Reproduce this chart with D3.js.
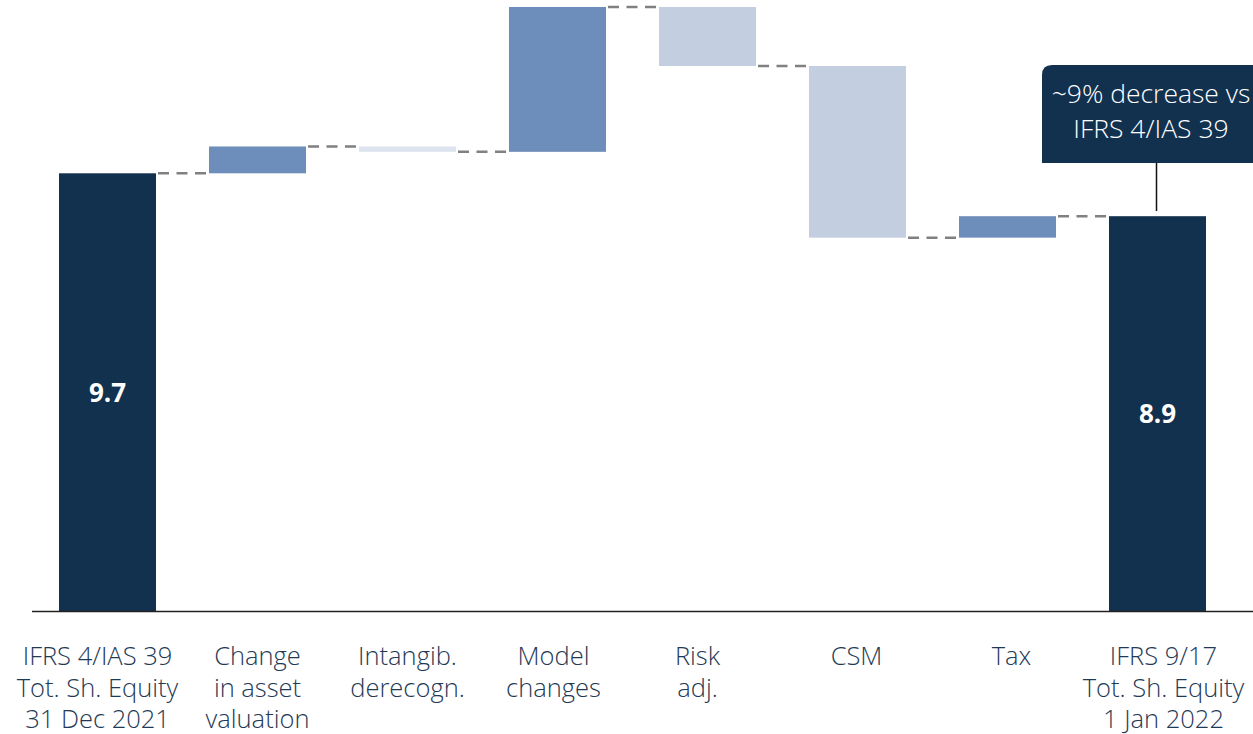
<!DOCTYPE html>
<html>
<head>
<meta charset="utf-8">
<script src="https://cdn.jsdelivr.net/npm/d3@7"></script>
<style>
  html, body { margin: 0; padding: 0; background: #fff; }
  svg { display: block; }
</style>
</head>
<body>
<svg id="chart" width="1253" height="734"></svg>
<script>
// ---- data ----
const categories = [
  ["IFRS 4/IAS 39", "Tot. Sh. Equity", "31 Dec 2021"],
  ["Change", "in asset", "valuation"],
  ["Intangib.", "derecogn."],
  ["Model", "changes"],
  ["Risk", "adj."],
  ["CSM"],
  ["Tax"],
  ["IFRS 9/17", "Tot. Sh. Equity", "1 Jan 2022"]
];
const startTotal = 9.7;
const deltas = [0.5, -0.1, 2.7, -1.1, -3.2, 0.4];
const endTotal = 8.9;
const calloutText = ["~9% decrease vs", "IFRS 4/IAS 39"];

// ---- styles / layout ----
const colors = {
  total: "#12314f",
  up: "#6d8dba",
  down: "#c3cee0",
  faint: "#dde4ef"
};
const labelDx = [-10, 0, 0, -4, -10, -1, 4, 6];
const yMinShown = 1.54;
const textColor = "#1f3a56";
const fontFam = "'Open Sans', 'Noto Sans', sans-serif";

// build waterfall records
const records = [];
records.push({ i: 0, y0: yMinShown, y1: startTotal, type: "total", label: startTotal });
let run = startTotal;
deltas.forEach((d, k) => {
  const from = run, to = run + d;
  run = to;
  const type = Math.abs(d) < 0.2 ? "faint" : (d >= 0 ? "up" : "down");
  records.push({ i: k + 1, y0: from, y1: to, type });
});
records.push({ i: 7, y0: yMinShown, y1: endTotal, type: "total", label: endTotal });

const svg = d3.select("#chart");

const x = d3.scaleBand()
  .domain(d3.range(categories.length))
  .range([32.5, 1232.5])
  .paddingInner(0.3533)
  .paddingOuter(0.17665);

const maxV = d3.max(records, r => Math.max(r.y0, r.y1));
const y = d3.scaleLinear().domain([yMinShown, maxV]).range([611, 7]);

// bars
svg.append("g").selectAll("rect")
  .data(records)
  .join("rect")
  .attr("x", r => x(r.i))
  .attr("width", x.bandwidth())
  .attr("y", r => y(Math.max(r.y0, r.y1)))
  .attr("height", r => Math.abs(y(r.y0) - y(r.y1)))
  .attr("fill", r => colors[r.type]);

// connectors
const connectors = [];
for (let k = 0; k < records.length - 1; k++) {
  connectors.push({ a: k, b: k + 1, v: records[k].y1 });
}
svg.append("g").selectAll("line")
  .data(connectors)
  .join("line")
  .attr("x1", c => x(c.a) + x.bandwidth() + 2)
  .attr("x2", c => x(c.b) - 1)
  .attr("y1", c => y(c.v))
  .attr("y2", c => y(c.v))
  .attr("stroke", "#808080")
  .attr("stroke-width", 2.5)
  .attr("stroke-dasharray", "11,7.5");

// baseline axis
svg.append("line")
  .attr("x1", 32).attr("x2", 1253)
  .attr("y1", 611.5).attr("y2", 611.5)
  .attr("stroke", "#222").attr("stroke-width", 1.6);

// value labels
svg.append("g").selectAll("text")
  .data(records.filter(r => r.label !== undefined))
  .join("text")
  .attr("x", r => x(r.i) + x.bandwidth() / 2)
  .attr("y", r => (y(r.y0) + y(r.y1)) / 2)
  .attr("dy", "0.36em")
  .attr("text-anchor", "middle")
  .attr("fill", "#fff")
  .attr("font-family", fontFam)
  .attr("font-weight", 700)
  .attr("font-size", 26)
  .text(r => r.label.toFixed(1));

// category labels
const lab = svg.append("g").selectAll("text")
  .data(categories)
  .join("text")
  .attr("text-anchor", "middle")
  .attr("fill", textColor)
  .attr("font-family", fontFam)
  .attr("font-weight", 300)
  .attr("font-size", 25.5)
  .attr("transform", (d, i) => `translate(${x(i) + x.bandwidth() / 2 + labelDx[i]},665)`);
lab.selectAll("tspan")
  .data(d => d)
  .join("tspan")
  .attr("x", 0)
  .attr("y", (d, j) => j * 31.5)
  .text(d => d);

// callout
const cx = 1151;
svg.append("line")
  .attr("x1", 1156.5).attr("x2", 1156.5)
  .attr("y1", 163).attr("y2", 211)
  .attr("stroke", "#111").attr("stroke-width", 1.5);
svg.append("path")
  .attr("d", "M1042,163 L1042,75 Q1042,65 1052,65 L1262,65 L1262,163 Z")
  .attr("fill", colors.total);
svg.append("g").selectAll("text")
  .data(calloutText)
  .join("text")
  .attr("x", cx)
  .attr("y", (d, j) => 103 + j * 35)
  .attr("text-anchor", "middle")
  .attr("fill", "#fff")
  .attr("font-family", fontFam)
  .attr("font-weight", 300)
  .attr("font-size", 26.5)
  .text(d => d);
</script>
</body>
</html>
